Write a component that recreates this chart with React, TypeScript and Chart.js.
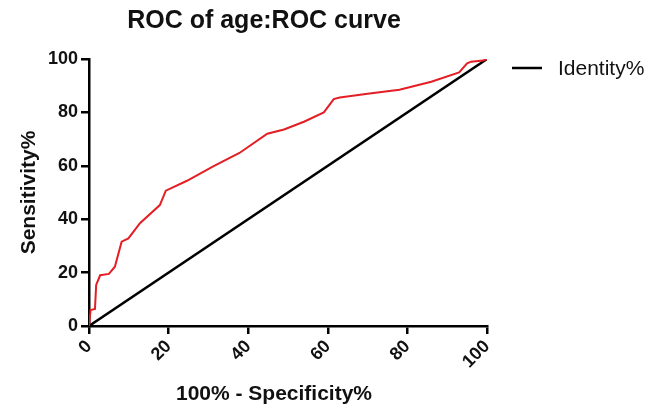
import React, { useEffect, useRef } from 'react';
import { Chart, registerables } from 'chart.js';

Chart.register(...registerables);

// ROC curve (1 - specificity %, sensitivity %)
const fprValues = [0, 0.4, 1.5, 1.8, 2.8, 5.0, 6.5, 8.2, 9.9, 12.8, 17.8, 19.3, 24.5, 31.2, 37.8, 44.8, 49, 54, 59, 61.5, 63, 70, 78, 86, 93, 95, 96, 99, 100];
const sensitivityValues = [0, 6, 6.4, 15.4, 19, 19.5, 22.2, 31.6, 32.8, 38.5, 45.3, 50.7, 54.3, 59.8, 64.8, 72, 73.6, 76.5, 80, 85, 85.6, 87, 88.5, 91.5, 95, 98.4, 99, 99.4, 100];

// Identity (reference) line
const identityX = [0, 100];
const identityY = [0, 100];

const rocLabel = 'ROC of age';
const identityLabel = 'Identity%';
const chartTitle = 'ROC of age:ROC curve';
const xAxisTitle = '100% - Specificity%';
const yAxisTitle = 'Sensitivity%';
const axisMin = 0;
const axisMax = 100;
const tickStep = 20;

const FONT = '"Liberation Sans", Arial, Helvetica, sans-serif';

const overlayPlugin = {
  id: 'overlayText',
  afterDraw(chart: any) {
    const ctx = chart.ctx;
    ctx.save();
    ctx.fillStyle = '#111';
    ctx.textBaseline = 'alphabetic';
    ctx.textAlign = 'center';
    ctx.font = `bold 25px ${FONT}`;
    ctx.fillText(chartTitle, 264, 28);
    ctx.font = `bold 21px ${FONT}`;
    ctx.fillText(xAxisTitle, 274, 400);
    // legend (identity line only)
    const ds = chart.data.datasets[1];
    ctx.strokeStyle = ds.borderColor;
    ctx.lineWidth = ds.borderWidth;
    ctx.beginPath();
    ctx.moveTo(512, 68);
    ctx.lineTo(542, 68);
    ctx.stroke();
    ctx.textAlign = 'left';
    ctx.font = `21px ${FONT}`;
    ctx.fillText(ds.label, 558, 75);
    ctx.restore();
  },
};

export default function App() {
  const ref = useRef<HTMLCanvasElement>(null);
  useEffect(() => {
    document.body.style.margin = '0';
    const rocData = fprValues.map((x, i) => ({ x, y: sensitivityValues[i] }));
    const idData = identityX.map((x, i) => ({ x, y: identityY[i] }));
    const chart = new Chart(ref.current as HTMLCanvasElement, {
      type: 'line',
      data: {
        datasets: [
          {
            label: rocLabel,
            data: rocData,
            borderColor: '#e31e24',
            borderWidth: 2,
            pointRadius: 0,
            tension: 0,
            fill: false,
          },
          {
            label: identityLabel,
            data: idData,
            borderColor: '#000000',
            borderWidth: 2.5,
            pointRadius: 0,
            tension: 0,
            fill: false,
          },
        ],
      },
      options: {
        responsive: false,
        animation: false,
        layout: { padding: { top: 59, right: 173, bottom: 0, left: 0 } },
        plugins: {
          legend: { display: false },
          title: { display: false },
          tooltip: { enabled: false },
        },
        scales: {
          x: {
            type: 'linear',
            min: axisMin,
            max: axisMax,
            afterFit: (s: any) => { s.height = 82; },
            border: { display: true, color: '#000', width: 2.5 },
            grid: { display: true, drawOnChartArea: false, drawTicks: true, tickLength: 8, color: '#000', lineWidth: 2.5 },
            ticks: {
              stepSize: tickStep,
              autoSkip: false,
              maxRotation: 45,
              minRotation: 45,
              padding: 2,
              color: '#111',
              font: { family: FONT, size: 18, weight: 'bold' },
            },
          },
          y: {
            type: 'linear',
            min: axisMin,
            max: axisMax,
            afterFit: (s: any) => { s.width = 89; },
            border: { display: true, color: '#000', width: 2.5 },
            grid: { display: true, drawOnChartArea: false, drawTicks: true, tickLength: 8, color: '#000', lineWidth: 2.5 },
            ticks: {
              stepSize: tickStep,
              padding: 3,
              color: '#111',
              font: { family: FONT, size: 18, weight: 'bold' },
            },
            title: {
              display: true,
              text: yAxisTitle,
              color: '#111',
              font: { family: FONT, size: 21, weight: 'bold' },
              padding: { top: 17, bottom: 0 },
            },
          },
        },
      },
      plugins: [overlayPlugin],
    } as any);
    return () => chart.destroy();
  }, []);
  return (
    <div style={{ width: 660, height: 408 }}>
      <canvas ref={ref} width={660} height={408} style={{ display: 'block' }} />
    </div>
  );
}
